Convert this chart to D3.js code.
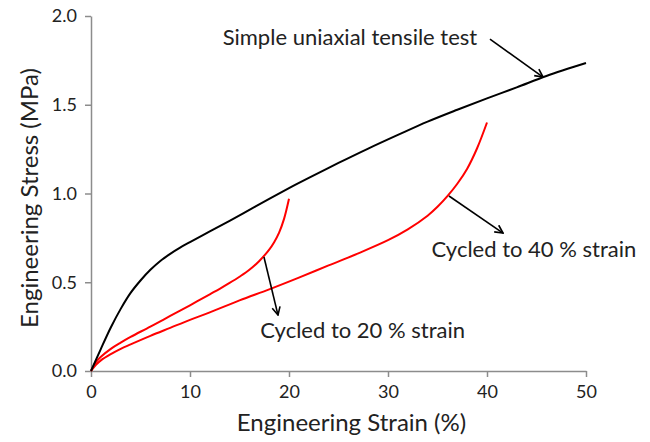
<!DOCTYPE html>
<html>
<head>
<meta charset="utf-8">
<script src="https://cdn.jsdelivr.net/npm/d3@7"></script>
<style>
  body { margin: 0; background: #fff; }
  text { font-family: Lato, "Open Sans", sans-serif; }
</style>
</head>
<body>
<script>
var w = 650,
    h = 442;

var margin = { top: 16, right: 64, bottom: 71, left: 91 };

var width = w - margin.left - margin.right,
    height = h - margin.top - margin.bottom;

// curves: [strain %, stress MPa]
var simpleTest = [[0, 0], [1, 0.125], [2, 0.245], [3, 0.35], [4, 0.44], [5, 0.51], [6, 0.57],
    [7, 0.62], [8, 0.66], [9, 0.695], [10, 0.726], [12, 0.786], [14, 0.846], [16, 0.908],
    [18, 0.97], [20, 1.03], [22, 1.088], [25, 1.172], [28, 1.253], [31, 1.33], [34, 1.405],
    [37, 1.472], [40, 1.536], [43, 1.598], [46, 1.662], [50, 1.735]];

var cycled20 = [[0, 0], [0.5, 0.05], [1, 0.08], [2, 0.125], [3, 0.16], [4, 0.192], [6, 0.25],
    [8, 0.31], [10, 0.37], [12, 0.432], [13, 0.463], [14, 0.496], [15, 0.531], [16, 0.57],
    [17, 0.62], [18, 0.684], [18.5, 0.726], [19, 0.78], [19.5, 0.857], [20, 0.97]];

var cycled40 = [[0, 0], [0.5, 0.035], [1, 0.06], [2, 0.095], [3, 0.125], [4, 0.15], [6, 0.198],
    [8, 0.243], [10, 0.288], [12, 0.33], [15, 0.398], [18, 0.46], [21, 0.526], [24, 0.595],
    [27, 0.663], [30, 0.737], [32, 0.798], [34, 0.875], [35, 0.925], [36, 0.985], [37, 1.055],
    [38, 1.14], [39, 1.255], [40, 1.40]];

var xTicks = [0, 10, 20, 30, 40, 50];
var yTicks = [0, 0.5, 1.0, 1.5, 2.0];

// annotations in data units: label start + arrow from/to
var notes = [
    { text: "Simple uniaxial tensile test", x: 13.3, y: 1.837, from: [40.3, 1.87], to: [45.66, 1.656] },
    { text: "Cycled to 20 % strain", x: 17.1, y: 0.186, from: [17.47, 0.642], to: [18.89, 0.315] },
    { text: "Cycled to 40 % strain", x: 34.4, y: 0.644, from: [36.16, 0.986], to: [41.62, 0.777] }
];

var x = d3.scaleLinear().domain([0, 50]).range([0, width]);
var y = d3.scaleLinear().domain([0, 2]).range([height, 0]);

var line = d3.line()
    .x(function(d) { return x(d[0]); })
    .y(function(d) { return y(d[1]); })
    .curve(d3.curveCatmullRom.alpha(0.5));

var svg = d3.select("body").append("svg")
    .attr("width", w)
    .attr("height", h);

svg.append("defs").append("marker")
    .attr("id", "arrow")
    .attr("viewBox", "0 0 10 10")
    .attr("refX", 9)
    .attr("refY", 5)
    .attr("markerWidth", 10)
    .attr("markerHeight", 10)
    .attr("markerUnits", "userSpaceOnUse")
    .attr("orient", "auto")
    .append("path")
    .attr("d", "M1,1 L9,5 L1,9")
    .attr("fill", "none")
    .attr("stroke", "#000")
    .attr("stroke-width", 1.6);

var chart = svg.append("g")
    .attr("transform", "translate(" + margin.left + "," + margin.top + ")");

chart.append("g")
    .attr("class", "axis")
    .attr("transform", "translate(0," + height + ")")
    .call(d3.axisBottom(x).tickValues(xTicks).tickSize(6).tickSizeOuter(0).tickPadding(8));

chart.append("g")
    .attr("class", "axis")
    .call(d3.axisLeft(y).tickValues(yTicks).tickFormat(d3.format(".1f")).tickSize(6).tickSizeOuter(0).tickPadding(8));

chart.selectAll(".axis path, .axis line")
    .attr("stroke", "#8c8c8c")
    .attr("stroke-width", 1.5);

chart.selectAll(".axis text")
    .attr("font-size", 18)
    .attr("fill", "#222")
    .style("font-family", "Lato, sans-serif");

chart.append("text")
    .text("Engineering Strain (%)")
    .attr("x", width / 2 + 13)
    .attr("y", height + 60)
    .attr("text-anchor", "middle")
    .attr("font-size", 24)
    .attr("fill", "#222");

chart.append("text")
    .text("Engineering Stress (MPa)")
    .attr("transform", "rotate(-90)")
    .attr("x", -182)
    .attr("y", -53)
    .attr("text-anchor", "middle")
    .attr("font-size", 24)
    .attr("fill", "#222");

chart.append("path")
    .attr("d", line(cycled40))
    .attr("fill", "none")
    .attr("stroke", "#ff0000")
    .attr("stroke-width", 2);

chart.append("path")
    .attr("d", line(cycled20))
    .attr("fill", "none")
    .attr("stroke", "#ff0000")
    .attr("stroke-width", 2);

chart.append("path")
    .attr("d", line(simpleTest))
    .attr("fill", "none")
    .attr("stroke", "#000")
    .attr("stroke-width", 2);

var note = chart.selectAll(".note")
    .data(notes)
    .enter().append("g")
    .attr("class", "note");

note.append("line")
    .attr("x1", function(d) { return x(d.from[0]); })
    .attr("y1", function(d) { return y(d.from[1]); })
    .attr("x2", function(d) { return x(d.to[0]); })
    .attr("y2", function(d) { return y(d.to[1]); })
    .attr("stroke", "#000")
    .attr("stroke-width", 1.6)
    .attr("marker-end", "url(#arrow)");

note.append("text")
    .text(function(d) { return d.text; })
    .attr("x", function(d) { return x(d.x); })
    .attr("y", function(d) { return y(d.y); })
    .attr("font-size", 22)
    .attr("fill", "#222");
</script>
</body>
</html>
